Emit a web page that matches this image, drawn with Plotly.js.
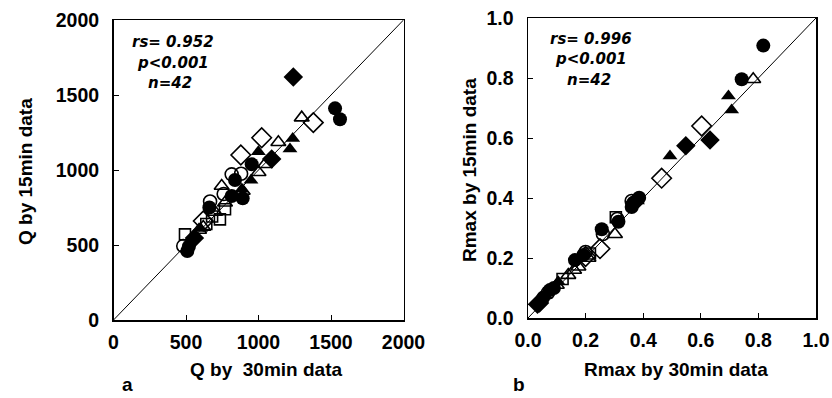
<!DOCTYPE html>
<html><head><meta charset="utf-8">
<script src="https://cdn.plot.ly/plotly-3.0.1.min.js"></script>
<style>html,body{margin:0;padding:0;background:#fff}#c{width:832px;height:398px}</style>
</head><body><div id="c"></div>
<script>
// ---------- Panel a : Q (30min vs 15min) ----------
const aFilledCircleX = [1528,1562,953,838,815,891,661,509,520];
const aFilledCircleY = [1411,1338,1038,933,827,811,750,460,490];
const aOpenCircleX = [815,666,481,880,760];
const aOpenCircleY = [971,790,493,975,840];
const aOpenTriX = [1298,1137,1045,1000,746,891,769,619,590,700];
const aOpenTriY = [1349,1185,1038,985,893,860,782,620,600,720];
const aFilledTriX = [1236,1217,999,948,884,600];
const aFilledTriY = [1210,1140,1122,931,871,610];
const aOpenDiaX = [1022,878,1378,619];
const aOpenDiaY = [1215,1100,1316,660];
const aFilledDiaX = [1240,1091,558];
const aFilledDiaY = [1620,1074,546];
const aOpenSqX = [734,769,493,640,680];
const aOpenSqY = [671,738,571,640,690];
const aLine = [0,2000];
const aTicks = [0,500,1000,1500,2000];

// ---------- Panel b : Rmax (30min vs 15min) ----------
const bFilledCircleX = [0.817,0.742,0.386,0.366,0.314,0.256,0.192,0.163,0.076,0.053,0.09,0.36];
const bFilledCircleY = [0.908,0.796,0.401,0.384,0.321,0.296,0.21,0.193,0.093,0.068,0.1,0.37];
const bOpenCircleX = [0.36,0.31,0.07,0.2,0.26];
const bOpenCircleY = [0.39,0.33,0.085,0.22,0.28];
const bOpenTriX = [0.782,0.302,0.21,0.175,0.14,0.16,0.1];
const bOpenTriY = [0.796,0.279,0.2,0.171,0.143,0.16,0.11];
const bFilledTriX = [0.696,0.707,0.493,0.105,0.06,0.38];
const bFilledTriY = [0.74,0.693,0.54,0.121,0.075,0.39];
const bOpenDiaX = [0.603,0.464,0.25,0.2];
const bOpenDiaY = [0.64,0.466,0.231,0.205];
const bFilledDiaX = [0.632,0.548,0.033,0.04,0.37];
const bFilledDiaY = [0.593,0.574,0.046,0.05,0.385];
const bOpenSqX = [0.305,0.215,0.12];
const bOpenSqY = [0.336,0.215,0.13];
const bLine = [0,1];
const bTicks = [0,0.2,0.4,0.6,0.8,1.0];

const blk = '#000';
function mk(x,y,sym,size,xa,ya){
  const open = sym.indexOf('open')>=0;
  return {type:'scatter',mode:'markers',x:x,y:y,xaxis:xa,yaxis:ya,hoverinfo:'skip',
    marker:{symbol:sym,size:size,color:blk,line:{color:blk,width:open?1.6:0}}};
}
const traces = [
  {type:'scatter',mode:'lines',x:aLine,y:aLine,xaxis:'x',yaxis:'y',line:{color:blk,width:1},hoverinfo:'skip'},
  mk(aOpenCircleX,aOpenCircleY,'circle-open',13,'x','y'),
  mk(aOpenSqX,aOpenSqY,'square-open',11,'x','y'),
  mk(aOpenTriX,aOpenTriY,'triangle-up-open',13,'x','y'),
  mk(aOpenDiaX,aOpenDiaY,'diamond-open',15,'x','y'),
  mk(aFilledCircleX,aFilledCircleY,'circle',14,'x','y'),
  mk(aFilledTriX,aFilledTriY,'triangle-up',13,'x','y'),
  mk(aFilledDiaX,aFilledDiaY,'diamond',15,'x','y'),
  {type:'scatter',mode:'lines',x:bLine,y:bLine,xaxis:'x2',yaxis:'y2',line:{color:blk,width:1},hoverinfo:'skip'},
  mk(bOpenCircleX,bOpenCircleY,'circle-open',13,'x2','y2'),
  mk(bOpenSqX,bOpenSqY,'square-open',11,'x2','y2'),
  mk(bOpenTriX,bOpenTriY,'triangle-up-open',13,'x2','y2'),
  mk(bOpenDiaX,bOpenDiaY,'diamond-open',15,'x2','y2'),
  mk(bFilledCircleX,bFilledCircleY,'circle',14,'x2','y2'),
  mk(bFilledTriX,bFilledTriY,'triangle-up',13,'x2','y2'),
  mk(bFilledDiaX,bFilledDiaY,'diamond',15,'x2','y2')
];

const W=832,H=398;
const px = x=>x/W, py = y=>1-y/H;
const tickFont = {family:'"Liberation Sans",Arial,sans-serif',size:19.5,color:blk,weight:'bold'};
function ax(dom,range,vals,fmt,anchor){
  return {domain:dom,range:range,tickvals:vals,ticktext:vals.map(fmt),anchor:anchor,
    showgrid:false,zeroline:false,showline:true,linecolor:blk,linewidth:1.5,mirror:true,
    ticks:'inside',ticklen:5,tickwidth:1,tickcolor:blk,tickfont:tickFont,fixedrange:true};
}
const layout = {
  width:W,height:H,margin:{l:0,r:0,t:0,b:0},paper_bgcolor:'#fff',plot_bgcolor:'#fff',showlegend:false,
  xaxis: Object.assign(ax([px(113.5),px(403.5)],[0,2000],aTicks,v=>String(v),'y'),{ticklabelstandoff:4}),
  yaxis: Object.assign(ax([py(320),py(20)],[0,2000],aTicks,v=>String(v),'x'),{ticklabelstandoff:9}),
  xaxis2: Object.assign(ax([px(528),px(816)],[0,1],bTicks,v=>v.toFixed(1),'y2'),{ticklabelstandoff:4}),
  yaxis2: Object.assign(ax([py(318),py(18)],[0,1],bTicks,v=>v.toFixed(1),'x2'),{ticklabelstandoff:9}),
  annotations:[]
};
const titleFont = {family:'"Liberation Sans",Arial,sans-serif',size:19,color:blk,weight:'bold'};
const statFont = {family:'"DejaVu Sans",sans-serif',size:15,color:blk,weight:'bold',style:'italic'};
function ann(text,x,y,font,extra){
  layout.annotations.push(Object.assign({text:text,x:px(x),y:py(y),xref:'paper',yref:'paper',showarrow:false,font:font,xanchor:'center',yanchor:'middle'},extra||{}));
}
ann('Q by\u00a0 30min data',266,369,titleFont);
ann('Rmax by 30min data',676,369,titleFont);
ann('Q by 15min data',25,172,titleFont,{textangle:-90});
ann('Rmax by 15min data',470,170,titleFont,{textangle:-90});
ann('a',127,384,titleFont);
ann('b',519,384,titleFont);
ann('rs= 0.952',173,42,statFont);
ann('p<0.001',173,63,statFont);
ann('n=42',170,83,statFont);
ann('rs= 0.996',591,39,statFont);
ann('p<0.001',591,59,statFont);
ann('n=42',589,80,statFont);

Plotly.newPlot('c',traces,layout,{staticPlot:true,displayModeBar:false});
</script></body></html>
